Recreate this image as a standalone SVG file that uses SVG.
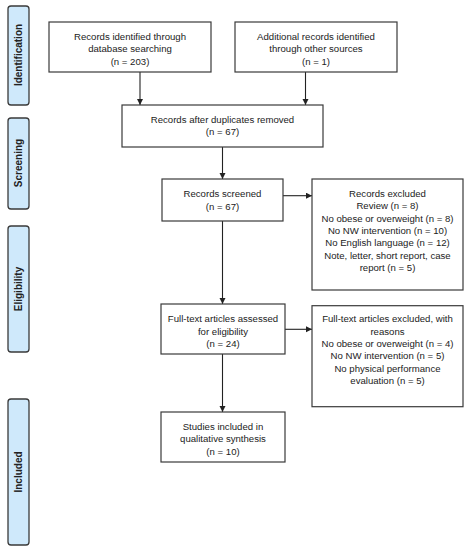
<svg xmlns="http://www.w3.org/2000/svg" width="470" height="550" viewBox="0 0 470 550">
<defs>
<style>
.box{fill:#fff;stroke:#3a3a3a;stroke-width:1.2}
.side{fill:#cfe9fb;stroke:#3a3a3a;stroke-width:1.3}
.t{font-family:"Liberation Sans",Arial,sans-serif;font-size:9.6px;fill:#222;text-anchor:middle}
.s{font-family:"Liberation Sans",Arial,sans-serif;font-size:10px;font-weight:bold;fill:#222;text-anchor:middle}
.c{stroke:#222;stroke-width:1.1;fill:none;marker-end:url(#ah)}
</style>
<marker id="ah" markerWidth="8" markerHeight="8" refX="6" refY="3" orient="auto" markerUnits="userSpaceOnUse">
<path d="M0,0 L6,3 L0,6 Z" fill="#222"/>
</marker>
</defs>
<rect width="470" height="550" fill="#fff"/>
<g id="side-identification"><rect class="side" x="8" y="6" width="21" height="99" rx="3"/><text class="s" transform="translate(22,55) rotate(-90)">Identification</text></g>
<g id="side-screening"><rect class="side" x="8" y="118" width="21" height="91" rx="3"/><text class="s" transform="translate(22,163) rotate(-90)">Screening</text></g>
<g id="side-eligibility"><rect class="side" x="8" y="226" width="21" height="126" rx="3"/><text class="s" transform="translate(22,289) rotate(-90)">Eligibility</text></g>
<g id="side-included"><rect class="side" x="8" y="399" width="21" height="146" rx="3"/><text class="s" transform="translate(22,472) rotate(-90)">Included</text></g>

<g id="connectors">
<line class="c" x1="140" y1="72" x2="140" y2="105"/>
<line class="c" x1="305.5" y1="72" x2="305.5" y2="105"/>
<line class="c" x1="222.5" y1="147" x2="222.5" y2="179"/>
<line class="c" x1="283" y1="195.7" x2="312" y2="195.7"/>
<line class="c" x1="222.5" y1="221" x2="222.5" y2="304"/>
<line class="c" x1="285" y1="329.3" x2="312" y2="329.3"/>
<line class="c" x1="222.5" y1="354" x2="222.5" y2="412"/>
</g>

<g id="n-database"><rect class="box" x="49" y="22" width="162" height="50"/>
<text class="t" x="130" y="39.5">Records identified through</text><text class="t" x="130" y="52">database searching</text><text class="t" x="130" y="64.5">(n = 203)</text></g>
<g id="n-other"><rect class="box" x="235" y="22" width="162" height="50"/>
<text class="t" x="316" y="39.5">Additional records identified</text><text class="t" x="316" y="52">through other sources</text><text class="t" x="316" y="64.5">(n = 1)</text></g>
<g id="n-duplicates"><rect class="box" x="122" y="105" width="201" height="42"/>
<text class="t" x="222.5" y="122.5">Records after duplicates removed</text><text class="t" x="222.5" y="135">(n = 67)</text></g>
<g id="n-screened"><rect class="box" x="162" y="179" width="121" height="42"/>
<text class="t" x="222.5" y="197">Records screened</text><text class="t" x="222.5" y="209.5">(n = 67)</text></g>
<g id="n-excluded"><rect class="box" x="312" y="179" width="151" height="111"/>
<text class="t" x="387.5" y="197">Records excluded</text>
<text class="t" x="387.5" y="209.4">Review (n = 8)</text>
<text class="t" x="387.5" y="221.7">No obese or overweight (n = 8)</text>
<text class="t" x="387.5" y="234">No NW intervention (n = 10)</text>
<text class="t" x="387.5" y="246.4">No English language (n = 12)</text>
<text class="t" x="387.5" y="258.7">Note, letter, short report, case</text>
<text class="t" x="387.5" y="271">report (n = 5)</text></g>
<g id="n-fulltext"><rect class="box" x="161" y="304" width="124" height="50"/>
<text class="t" x="223" y="322.4">Full-text articles assessed</text><text class="t" x="223" y="334.7">for eligibility</text><text class="t" x="223" y="347">(n = 24)</text></g>
<g id="n-fulltext-excluded"><rect class="box" x="312" y="305.7" width="151" height="101"/>
<text class="t" x="387.5" y="322.4">Full-text articles excluded, with</text>
<text class="t" x="387.5" y="334.7">reasons</text>
<text class="t" x="387.5" y="347">No obese or overweight (n = 4)</text>
<text class="t" x="387.5" y="359.4">No NW intervention (n = 5)</text>
<text class="t" x="387.5" y="371.7">No physical performance</text>
<text class="t" x="387.5" y="384">evaluation (n = 5)</text></g>
<g id="n-included"><rect class="box" x="161" y="412" width="124" height="50"/>
<text class="t" x="223" y="429.7">Studies included in</text><text class="t" x="223" y="442">qualitative synthesis</text><text class="t" x="223" y="454.7">(n = 10)</text></g>
</svg>
